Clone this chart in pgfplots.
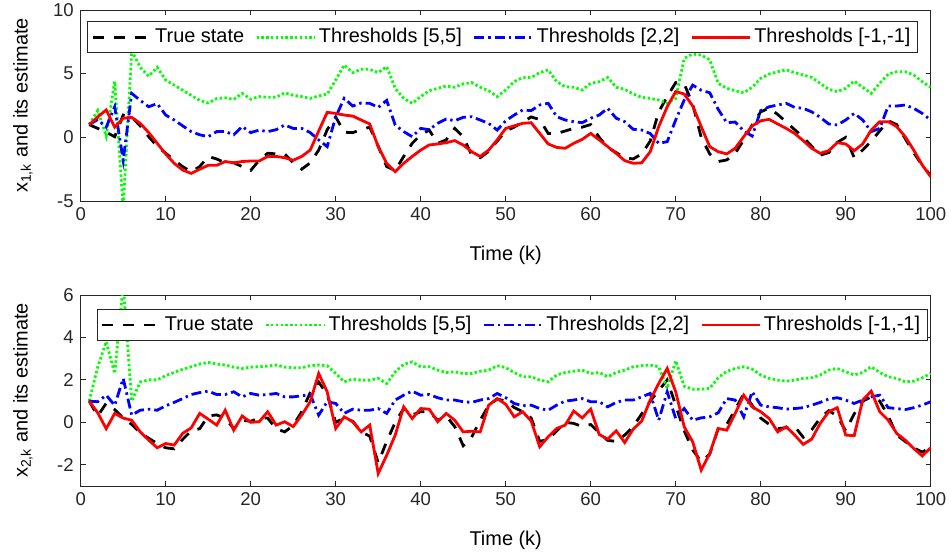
\documentclass[border=0pt]{standalone}
\usepackage{fontspec}
\setmainfont{Liberation Sans}
\usepackage{pgfplots}
\usepackage{pgfplotstable}
\pgfplotsset{compat=1.18}

\definecolor{axgray}{RGB}{38,38,38}
\definecolor{mgreen}{RGB}{0,255,0}
\definecolor{mblue}{RGB}{0,0,255}
\definecolor{mred}{RGB}{255,0,0}

% k, true state, thresholds [5,5], [2,2], [-1,-1]
\pgfplotstableread{
k tru t5 t2 tm1
1 1.0 1.0 1.0 1.0
2 0.7 2.1 1.4 1.6
3 0.4 0.1 0.8 2.15
4 0.05 4.4 2.4 0.8
5 1.75 -5.6 -1.8 1.5
6 1.6 6.8 3.45 1.57
7 0.9 5.5 2.9 1.1
8 0.05 4.8 2.4 0.37
9 -0.7 5.5 2.65 -0.47
10 -1.25 4.5 1.75 -1.31
11 -1.8 4.1 1.36 -2.04
12 -2.3 3.7 0.9 -2.57
13 -2.7 3.3 0.45 -2.83
14 -2.3 2.9 0.2 -2.5
15 -1.5 2.7 0.05 -2.2
16 -1.7 3.05 0.45 -2.2
17 -2.0 3.1 0.45 -1.9
18 -2.0 2.98 0.2 -2.0
19 -2.3 3.45 0.85 -1.9
20 -2.6 3.0 0.37 -1.86
21 -1.8 3.2 0.57 -1.86
22 -1.25 3.15 0.45 -1.5
23 -1.3 3.15 0.6 -1.5
24 -1.3 3.5 0.97 -1.6
25 -2.0 3.3 0.7 -1.8
26 -2.5 3.2 0.7 -1.5
27 -2.0 3.06 0.37 -1.0
28 -1.0 3.25 -0.2 0.5
29 0.6 3.4 -0.73 1.96
30 1.6 4.5 1.6 1.88
31 0.4 5.68 3.06 1.75
32 0.37 5.08 2.46 1.67
33 0.6 5.34 2.7 1.36
34 0.8 5.34 2.67 1.05
35 -0.7 5.08 2.35 -0.73
36 -2.3 5.55 2.9 -2.04
37 -2.6 3.85 0.97 -2.7
38 -1.5 3.06 0.45 -2.04
39 -0.47 2.67 0.05 -1.5
40 0.2 3.2 0.7 -1.0
41 0.57 3.66 0.6 -0.6
42 -0.47 3.85 1.1 -0.52
43 -0.2 4.03 1.44 -0.42
44 0.7 3.93 1.3 -0.26
45 0.05 4.2 1.57 -0.6
46 -1.4 4.3 1.62 -1.13
47 -1.6 3.93 1.36 -1.5
48 -1.1 3.66 1.1 -1.0
49 -0.3 3.2 0.57 -0.2
50 0.5 3.72 1.3 0.7
51 0.8 4.37 1.75 0.9
52 1.2 4.7 2.15 1.1
53 1.6 4.7 2.1 1.15
54 1.4 5.08 2.54 0.31
55 0.3 5.3 2.67 -0.52
56 0.3 4.37 1.62 -0.79
57 0.5 3.98 1.36 -0.86
58 0.7 3.93 1.23 -0.47
59 0.8 3.72 1.15 -0.16
60 1.0 4.24 1.5 0.31
61 0.0 4.37 1.75 -0.2
62 -0.8 4.7 2.28 -0.73
63 -1.2 3.93 1.5 -1.26
64 -1.6 3.77 1.23 -1.83
65 -1.7 3.4 0.63 -2.04
66 -1.3 3.14 0.57 -2.0
67 -0.3 3.06 0.3 -1.13
68 2.0 2.93 -0.47 0.84
69 3.2 2.67 -0.34 2.4
70 4.3 3.06 1.36 3.6
71 4.2 6.2 2.93 3.4
72 2.6 6.54 4.1 2.46
73 0.0 6.46 3.7 0.84
74 -1.3 6.1 3.5 -0.73
75 -1.9 4.24 2.2 -1.13
76 -1.78 3.85 1.15 -1.3
77 -1.26 3.66 1.2 -0.86
78 -0.2 3.5 0.5 0.05
79 0.97 3.93 0.1 0.9
80 2.0 4.63 2.1 1.3
81 2.3 4.97 2.4 1.41
82 1.8 5.15 2.54 1.05
83 1.2 5.3 2.67 0.7
84 0.6 5.08 2.35 0.3
85 0.0 4.9 2.28 -0.26
86 -0.7 4.7 2.0 -0.86
87 -1.4 4.24 1.57 -1.26
88 -1.2 3.77 1.05 -1.05
89 -0.4 3.59 0.97 -0.42
90 0.0 3.85 1.36 -0.52
91 -1.6 4.42 1.88 -1.05
92 -1.0 3.93 1.36 -0.52
93 -0.3 3.45 0.45 0.57
94 0.5 4.24 0.7 1.23
95 1.3 4.97 2.46 1.23
96 1.0 5.15 2.46 0.84
97 -0.1 5.15 2.54 0.05
98 -1.2 4.9 2.28 -1.0
99 -2.2 4.37 1.88 -2.17
100 -3.0 3.93 1.36 -3.1
}\topdata

\pgfplotstableread{
k tru t5 t2 tm1
1 1.0 1.0 1.0 1.0
2 0.3 2.6 0.97 0.45
3 0.9 3.8 1.28 -0.3
4 0.6 2.3 0.8 0.42
5 0.2 6.5 2.07 0.2
6 -0.1 1.0 0.34 0.1
7 -0.5 1.9 0.57 -0.45
8 -0.75 2.0 0.62 -0.84
9 -1.0 2.0 0.57 -1.2
10 -1.2 2.2 0.78 -1.0
11 -1.25 2.35 0.94 -1.07
12 -0.8 2.5 1.12 -0.52
13 -0.4 2.62 1.31 -0.26
14 -0.3 2.75 1.4 0.42
15 0.3 2.82 1.47 0.15
16 0.35 2.75 1.31 -0.13
17 0.2 2.7 1.31 0.57
18 -0.3 2.6 1.44 -0.37
19 0.1 2.54 1.2 0.3
20 0.05 2.6 1.36 0.0
21 0.2 2.62 1.28 0.03
22 0.2 2.65 1.31 0.5
23 -0.3 2.7 1.36 -0.13
24 -0.45 2.6 1.2 0.03
25 -0.15 2.57 1.2 -0.2
26 0.5 2.57 1.25 0.34
27 1.4 2.67 1.31 0.97
28 1.9 2.7 0.34 2.3
29 1.3 2.67 0.97 1.44
30 0.0 2.3 0.89 -0.29
31 0.2 1.91 0.42 0.26
32 0.05 2.04 0.62 0.03
33 -0.45 1.99 0.57 -0.45
34 -0.65 1.99 0.57 -0.13
35 -1.9 2.07 0.65 -2.41
36 -0.9 1.83 0.42 -1.55
37 0.0 2.38 1.05 -0.6
38 0.65 2.73 1.28 0.73
39 0.35 2.85 1.47 0.18
40 0.5 2.62 1.28 0.65
41 0.5 2.62 1.31 0.62
42 0.1 2.46 1.16 0.03
43 0.3 2.35 1.05 0.42
44 -0.2 2.38 1.05 0.1
45 -1.1 2.3 0.97 -0.45
46 -0.7 2.3 0.94 -0.42
47 0.1 2.41 1.05 -0.45
48 0.8 2.46 1.12 0.81
49 1.1 2.67 1.36 1.12
50 1.0 2.58 1.16 0.85
51 0.7 2.35 0.89 0.26
52 0.5 2.15 0.78 0.5
53 0.2 2.15 0.81 0.06
54 -0.9 1.99 0.65 -1.15
55 -0.8 1.91 0.57 -0.68
56 -0.4 2.23 0.81 -0.29
57 0.0 2.35 1.0 -0.13
58 -0.05 2.41 1.05 0.53
59 -0.2 2.46 1.12 0.21
60 -0.1 2.3 0.97 0.62
61 -0.5 2.35 0.97 -0.57
62 -0.85 2.15 0.73 -0.79
63 -0.9 2.35 0.94 -0.4
64 -0.6 2.46 1.05 -0.95
65 -0.2 2.62 1.05 -0.32
66 0.4 2.67 1.2 0.06
67 1.0 2.7 1.36 1.05
68 1.5 2.62 0.1 1.83
69 2.0 1.6 1.44 2.54
70 0.8 2.9 0.18 1.44
71 -0.4 1.7 0.65 -0.21
72 -1.3 1.56 0.1 -0.92
73 -1.85 1.56 0.21 -2.25
74 -1.5 1.6 0.26 -1.47
75 -0.3 2.1 0.45 -0.29
76 -0.1 2.4 1.12 -0.37
77 0.6 2.54 1.05 0.42
78 1.35 2.62 0.26 1.28
79 0.8 2.51 1.44 0.73
80 0.2 2.23 0.81 0.5
81 -0.1 2.07 0.73 0.18
82 -0.3 1.99 0.69 -0.45
83 -0.25 1.94 0.62 -0.21
84 -0.2 1.99 0.65 -0.6
85 -0.7 2.07 0.69 -1.04
86 -0.35 2.1 0.81 -0.79
87 0.2 2.23 0.94 -0.05
88 0.55 2.46 1.1 0.5
89 0.3 2.54 1.16 0.69
90 -0.4 2.38 1.05 -0.6
91 0.4 2.23 0.89 -0.63
92 1.0 2.35 1.05 1.05
93 1.2 2.62 1.2 1.47
94 1.0 2.35 1.28 0.5
95 0.3 2.15 0.69 0.1
96 -0.6 2.07 0.65 -0.52
97 -0.9 1.91 0.6 -0.84
98 -1.2 1.94 0.69 -1.23
99 -1.4 2.1 0.81 -1.58
100 -1.2 2.3 0.97 -1.2
}\botdata

\pgfplotsset{
  mstyle/.style={
    scale only axis, width=425bp, height=95.5bp,
    xmin=0, xmax=100, xtick={0,10,...,100},
    tick align=inside, xtick pos=both, ytick pos=both,
    major tick length=2.5bp,
    axis line style={axgray, line width=0.4bp},
    every tick/.style={axgray, line width=0.4bp},
    tick label style={font=\fontsize{9.3}{11}\selectfont, text=axgray},
    /pgf/number format/assume math mode=true,
    label style={font=\fontsize{10}{12}\selectfont, text=axgray},
    every axis x label/.style={at={(axis description cs:0.5,-0.283)}, anchor=center},
    every axis y label/.style={at={(axis description cs:-0.0679,0.5)}, rotate=90, anchor=center},
    xlabel={Time (k)},
    legend columns=4,
    legend cell align=left,
    legend style={draw=axgray, line width=0.4bp, fill=white,
      font=\fontsize{10}{12}\selectfont, inner xsep=2bp, inner ysep=1.5bp,
      nodes={inner xsep=1.5bp},
      /tikz/every even column/.append style={column sep=4bp}},
    legend image code/.code={\draw[##1] (0bp,0bp) -- (29bp,0bp);},
    trued/.style={black, line width=1.4bp, dash pattern=on 5.5bp off 5bp},
    t5d/.style={mgreen, line width=1.4bp, dash pattern=on 1.2bp off 1.2bp},
    t2d/.style={mblue, line width=1.4bp, dash pattern=on 5bp off 2bp on 1.2bp off 2bp},
    tm1d/.style={mred, line width=1.4bp},
  }
}

\begin{document}
\begin{tikzpicture}
\path[use as bounding box] (0,0) rectangle (475.5bp,279bp);

\begin{axis}[mstyle,
  at={(40.35bp,178.5bp)}, anchor=south west,
  ymin=-5, ymax=10, ytick={-5,0,5,10},
  ylabel={x\textsubscript{1,k} and its estimate},
  legend style={at={(axis description cs:0.0074,0.942)}, anchor=north west}]
\addplot[trued] table[x=k, y=tru] {\topdata};
\addplot[t5d] table[x=k, y=t5] {\topdata};
\addplot[t2d] table[x=k, y=t2] {\topdata};
\addplot[tm1d] table[x=k, y=tm1] {\topdata};
\legend{True state, Thresholds [5{,}5], Thresholds [2{,}2], Thresholds [-1{,}-1]}
\end{axis}

\begin{axis}[mstyle,
  at={(40.35bp,36bp)}, anchor=south west,
  ymin=-3, ymax=6, ytick={-2,0,2,4,6},
  ylabel={x\textsubscript{2,k} and its estimate},
  legend style={at={(axis description cs:0.0188,0.927)}, anchor=north west}]
\addplot[trued] table[x=k, y=tru] {\botdata};
\addplot[t5d] table[x=k, y=t5] {\botdata};
\addplot[t2d] table[x=k, y=t2] {\botdata};
\addplot[tm1d] table[x=k, y=tm1] {\botdata};
\legend{True state, Thresholds [5{,}5], Thresholds [2{,}2], Thresholds [-1{,}-1]}
\end{axis}
\end{tikzpicture}
\end{document}
